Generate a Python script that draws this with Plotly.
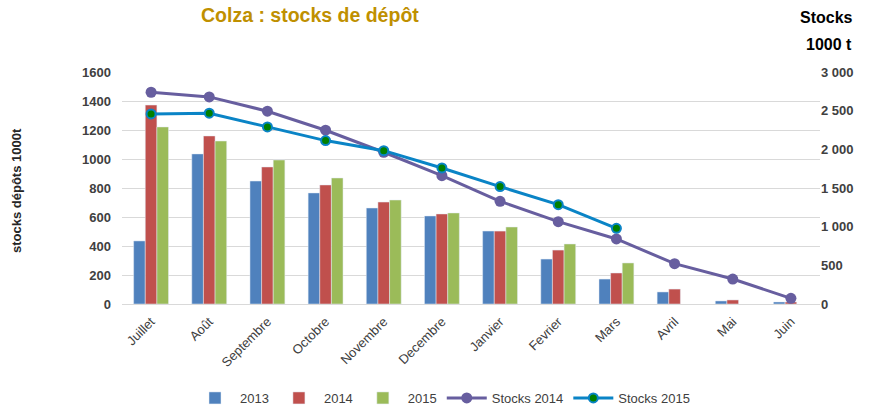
import plotly.graph_objects as go

months = ["Juillet", "Août", "Septembre", "Octobre", "Novembre", "Decembre",
          "Janvier", "Fevrier", "Mars", "Avril", "Mai", "Juin"]
v2013 = [435, 1035, 848, 766, 662, 607, 503, 310, 172, 83, 21, 14]
v2014 = [1372, 1159, 945, 821, 703, 621, 503, 372, 214, 103, 28, 14]
v2015 = [1221, 1124, 993, 869, 717, 628, 531, 414, 283, None, None, None]
stocks2014 = [2738, 2678, 2493, 2247, 1962, 1660, 1328, 1065, 841, 522, 323, 73]
stocks2015 = [2458, 2467, 2290, 2113, 1983, 1759, 1518, 1285, 979, None, None, None]
left_ticks = [0, 200, 400, 600, 800, 1000, 1200, 1400, 1600]
left_labels = ["0", "200", "400", "600", "800", "1000", "1200", "1400", "1600"]
right_ticks = [0, 500, 1000, 1500, 2000, 2500, 3000]
right_labels = ["0", "500", "1 000", "1 500", "2 000", "2 500", "3 000"]

fig = go.Figure()
fig.add_bar(x=months, y=v2013, name="2013", marker_color="#4F81BD")
fig.add_bar(x=months, y=v2014, name="2014", marker_color="#C0504D")
fig.add_bar(x=months, y=v2015, name="2015", marker_color="#9BBB59")
fig.add_scatter(x=months, y=stocks2014, name="Stocks 2014", yaxis="y2",
                mode="lines+markers",
                line=dict(color="#675E9F", width=3),
                marker=dict(color="#675E9F", size=11))
fig.add_scatter(x=months, y=stocks2015, name="Stocks 2015", yaxis="y2",
                mode="lines+markers",
                line=dict(color="#0A84C6", width=3),
                marker=dict(color="#008000", size=9,
                            line=dict(color="#0A84C6", width=2)))

fig.update_layout(
    width=870, height=407,
    margin=dict(l=122, r=50, t=72, b=103, autoexpand=False),
    paper_bgcolor="white", plot_bgcolor="white",
    font=dict(family="Liberation Sans, Arial, sans-serif", color="#404040"),
    barmode="group", bargap=0.4, bargroupgap=0,
    showlegend=True,
    legend=dict(orientation="h", xref="container", yref="container",
                x=190 / 870, xanchor="left", y=1 - 398 / 407,
                yanchor="middle", font=dict(size=13, color="#404040"),
                traceorder="normal", itemwidth=40, tracegroupgap=0),
    xaxis=dict(range=[-0.5, len(months) - 0.5], tickangle=-45,
               tickfont=dict(size=13, color="#404040"),
               showline=True, linecolor="#D9D9D9", linewidth=1,
               showgrid=False, ticks="", automargin=False,
               ticklabelstandoff=4),
    yaxis=dict(range=[0, 1600], tickvals=left_ticks,
               ticktext=["<b>" + t + "</b>" for t in left_labels],
               showgrid=True, gridcolor="#D9D9D9",
               zeroline=False, tickfont=dict(size=13, color="#404040"),
               ticklabelstandoff=10, automargin=False),
    yaxis2=dict(range=[0, 3000], overlaying="y", side="right",
                tickvals=right_ticks,
                ticktext=["<b>" + t + "</b>" for t in right_labels],
                showgrid=False, automargin=False,
                zeroline=False, tickfont=dict(size=13, color="#404040")),
    annotations=[
        dict(text="<b>Colza : stocks de dépôt</b>", xref="paper", yref="paper",
             x=(310 - 122) / 698, y=1 + (72 - 15) / 232, xanchor="center",
             yanchor="middle", showarrow=False,
             font=dict(size=19.5, color="#BF9000")),
        dict(text="<b>Stocks</b>", xref="paper", yref="paper",
             x=(826 - 122) / 698, y=1 + (72 - 17) / 232, xanchor="center",
             yanchor="middle", showarrow=False,
             font=dict(size=16, color="black")),
        dict(text="<b>1000 t</b>", xref="paper", yref="paper",
             x=(829 - 122) / 698, y=1 + (72 - 45) / 232, xanchor="center",
             yanchor="middle", showarrow=False,
             font=dict(size=16, color="black")),
        dict(text="<b>stocks dépôts 1000t</b>", xref="paper", yref="paper",
             x=(16 - 122) / 698, y=(304 - 191) / 232, xanchor="center",
             yanchor="middle", textangle=-90, showarrow=False,
             font=dict(size=13, color="#262626")),
    ],
)

fig.write_html("out.html", config={"displayModeBar": False},
               post_script="document.body.style.margin='0';"
                           "document.body.style.overflow='hidden';")
